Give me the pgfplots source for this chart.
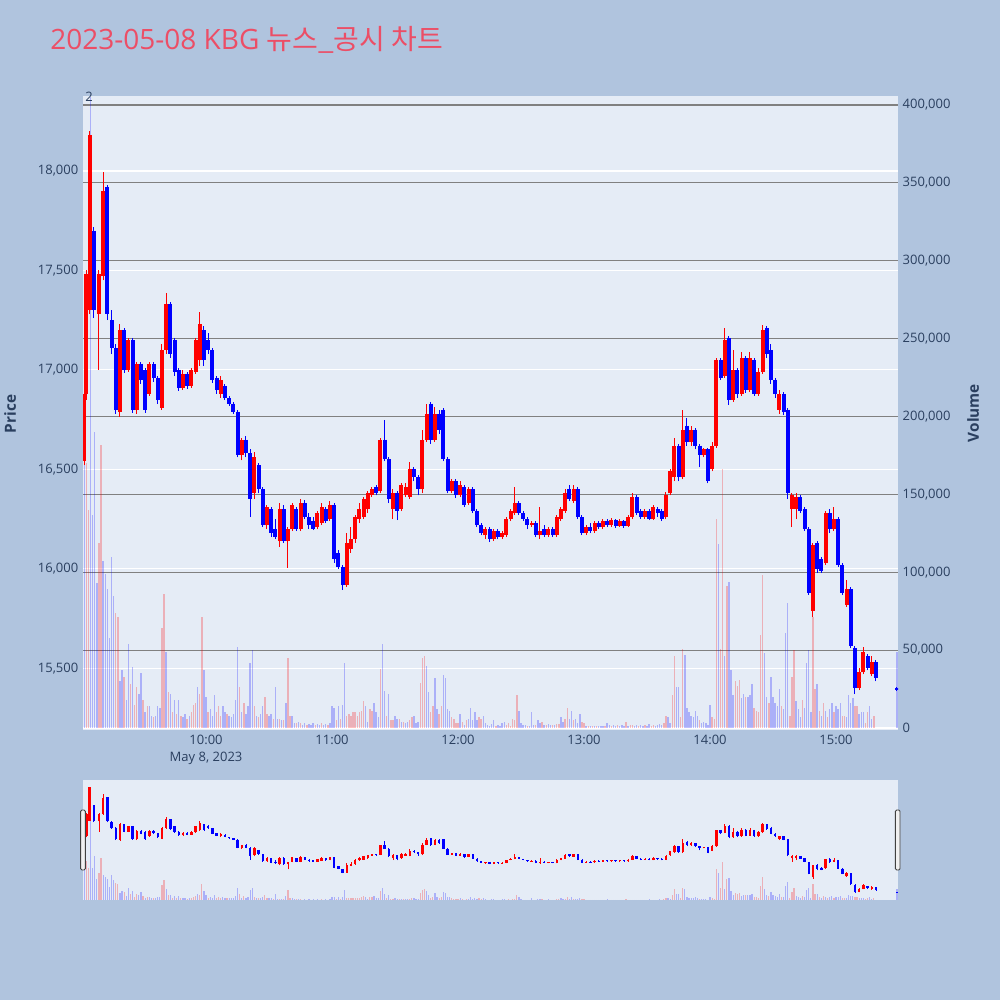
\documentclass[border=0pt]{standalone}
\usepackage{pgfplots}
\usepackage{pgfplotstable}
\usepackage{fontspec}
\pgfplotsset{compat=1.18}
\setmainfont{Open Sans}
\newfontfamily\cjk{Noto Sans CJK KR}

\definecolor{pagebg}{RGB}{176,196,222}
\definecolor{plotbg}{RGB}{229,236,246}
\definecolor{ticktext}{RGB}{42,63,95}
\definecolor{titlered}{RGB}{236,78,102}
\definecolor{grid2}{RGB}{128,128,128}

% minutes after 9:00, open high low close
\pgfplotstableread{
t o h l c
2 16540 16900 16520 16880
3 16880 17500 16850 17480
4.5 17300 18200 17280 18180
6.5 17700 17720 17260 17300
9 17280 17500 17000 17480
11 17470 17995 17450 17900
13 17920 17930 17250 17280
15 17250 17300 17080 17110
17 17110 17130 16780 16800
19 16790 17230 16765 17200
21 17200 17210 16985 17000
23 17000 17160 16990 17150
25 17150 17160 16785 16800
27 16800 17040 16780 17030
29 17030 17040 16930 16950
31 17000 17010 16785 16800
33 16880 17040 16870 17030
35 17030 17040 16940 16960
37 16960 16970 16830 16850
39 16810 17130 16800 17100
41 17100 17385 17080 17330
43 17330 17340 17060 17080
45 17150 17160 16970 16990
47 17000 17010 16895 16910
49 16910 17000 16900 16980
51 16980 16990 16905 16920
53 16920 17010 16910 17000
55 16990 17160 16980 17150
57 17050 17290 17020 17230
59 17200 17220 17020 17050
61 17150 17185 17080 17100
63 17100 17110 16935 16950
65 16960 16970 16880 16900
67 16880 16970 16860 16950
69 16920 16930 16850 16860
71 16860 16870 16820 16830
73 16830 16840 16780 16790
75 16790 16800 16560 16570
77 16570 16660 16545 16650
79 16650 16670 16560 16580
81 16580 16600 16260 16350
83 16380 16585 16350 16560
85 16520 16530 16380 16400
87 16400 16410 16210 16220
89 16220 16320 16200 16310
91 16300 16310 16160 16180
93 16200 16250 16150 16160
95 16140 16330 16110 16300
97 16300 16320 16130 16140
99 16140 16210 16005 16200
101 16200 16330 16190 16320
103 16300 16310 16190 16200
105 16200 16350 16190 16330
107 16330 16345 16250 16260
109 16260 16280 16200 16220
111 16240 16260 16195 16200
113 16210 16290 16200 16280
115 16230 16330 16220 16310
117 16300 16310 16230 16240
119 16250 16340 16240 16320
121 16320 16330 16030 16050
123 16080 16095 16000 16010
125 16010 16020 15895 15920
127 15920 16180 15910 16130
129 16100 16210 16080 16150
131 16150 16270 16130 16260
133 16250 16330 16230 16300
135 16260 16360 16250 16350
137 16300 16390 16280 16380
139 16370 16410 16360 16400
141 16410 16420 16370 16380
143 16390 16660 16380 16650
145 16650 16750 16540 16550
147 16550 16560 16330 16350
149 16300 16400 16250 16380
151 16380 16390 16245 16290
153 16300 16430 16290 16420
155 16370 16430 16360 16410
157 16360 16535 16350 16500
159 16500 16510 16440 16460
161 16460 16470 16370 16400
163 16400 16700 16380 16650
165 16650 16830 16640 16780
167 16830 16840 16630 16650
169 16650 16815 16640 16780
171 16780 16800 16680 16700
173 16800 16810 16540 16550
175 16550 16560 16380 16390
177 16390 16450 16380 16440
179 16440 16450 16355 16370
181 16370 16440 16360 16420
183 16410 16420 16310 16320
185 16330 16410 16320 16400
187 16400 16410 16280 16290
189 16290 16300 16210 16220
191 16220 16230 16170 16180
193 16170 16210 16150 16200
195 16200 16210 16135 16150
197 16150 16200 16140 16190
199 16190 16200 16150 16160
201 16160 16190 16150 16180
203 16170 16260 16160 16250
205 16250 16300 16240 16290
207 16280 16410 16270 16330
209 16330 16340 16270 16280
211 16280 16290 16240 16250
213 16250 16260 16200 16220
215 16220 16240 16210 16230
217 16230 16240 16160 16170
219 16170 16310 16150 16190
221 16200 16220 16160 16170
223 16170 16210 16160 16200
225 16200 16210 16160 16170
227 16170 16270 16160 16260
229 16250 16310 16240 16300
231 16290 16400 16280 16380
233 16400 16420 16340 16350
235 16340 16420 16330 16400
237 16400 16410 16250 16260
239 16260 16270 16170 16180
241 16180 16220 16170 16210
243 16210 16230 16180 16190
245 16190 16240 16180 16230
247 16230 16240 16200 16210
249 16210 16250 16200 16240
251 16240 16250 16210 16220
253 16220 16255 16210 16245
255 16245 16250 16205 16215
257 16215 16250 16210 16240
259 16240 16245 16205 16215
261 16215 16270 16210 16260
263 16260 16380 16250 16360
265 16360 16370 16270 16280
267 16290 16300 16250 16260
269 16260 16300 16250 16290
271 16290 16300 16245 16250
273 16250 16320 16245 16310
275 16300 16310 16260 16280
277 16290 16300 16240 16250
279 16260 16385 16250 16370
281 16380 16500 16370 16490
283 16460 16660 16440 16620
285 16620 16630 16440 16460
287 16460 16800 16450 16700
289 16720 16760 16620 16640
291 16640 16720 16620 16700
293 16700 16710 16600 16620
295 16620 16630 16510 16570
297 16570 16610 16560 16600
299 16600 16610 16430 16440
301 16500 16640 16490 16620
303 16620 17060 16610 17050
305 17050 17060 16950 16960
307 16970 17210 16960 17150
309 17160 17170 16825 16850
311 16850 17100 16840 17000
313 17000 17010 16860 16880
315 16880 17090 16870 17060
317 17060 17070 16885 16900
319 16900 17090 16890 17060
321 17050 17060 16870 16880
323 16880 17010 16870 16990
325 16990 17225 16980 17200
327 17210 17220 17060 17080
329 17100 17130 16930 16950
331 16950 16960 16860 16880
333 16800 16900 16780 16880
335 16880 16890 16775 16790
337 16800 16810 16350 16380
339 16300 16380 16210 16370
341 16300 16380 16250 16360
343 16360 16370 16280 16290
345 16300 16310 16190 16200
347 16200 16210 15870 15880
349 15790 16130 15760 16120
351 16130 16140 15980 16000
353 16050 16060 15980 15990
355 16030 16290 16020 16280
357 16280 16300 16180 16200
359 16200 16310 16190 16250
361 16250 16260 16010 16020
363 16020 16030 15870 15880
365 15820 15945 15810 15900
367 15900 15910 15600 15610
369 15600 15610 15370 15400
371 15400 15500 15390 15480
373 15480 15605 15470 15580
375 15560 15570 15490 15500
377 15470 15560 15460 15530
379 15530 15540 15435 15450
389 15400 15405 15385 15390
}\candles

% minutes after 9:00, volume, 1 = up (red) / 0 = down (blue)
\pgfplotstableread{
t v d
2 190000 0
3 170000 1
4 140000 1
5 405000 0
6 137000 0
7 190000 0
8 93000 0
9 119000 1
10 182000 1
11 107000 0
12 99000 0
13 89000 0
14 58000 0
15 110000 0
16 85000 0
17 74000 1
18 71000 1
19 30000 0
20 37000 0
21 33000 1
22 18000 0
23 54000 0
24 28000 1
25 39000 0
26 15000 1
27 26000 1
28 22000 0
29 35000 0
30 18000 1
31 10000 0
32 14000 1
33 14000 0
34 8000 0
35 7000 1
36 8000 0
37 14000 0
38 13000 0
39 64000 1
40 86000 1
41 49000 0
42 23000 1
43 22000 0
44 10000 1
45 18000 0
46 9000 1
47 18000 0
48 8000 1
49 7000 0
50 9000 0
51 6000 1
52 8000 0
53 10000 1
54 15000 1
55 16000 1
56 26000 0
57 22000 1
58 71000 1
59 37000 0
60 20000 0
61 10000 1
62 12000 0
63 8000 0
64 21000 0
65 10000 1
66 14000 1
67 8000 1
68 14000 0
69 10000 0
70 9000 1
71 8000 0
72 7000 0
73 9000 0
74 18000 0
75 52000 0
76 26000 1
77 10000 0
78 16000 1
79 9000 0
80 14000 0
81 42000 0
82 50000 0
83 14000 1
84 8000 0
85 7000 1
86 9000 0
87 14000 0
88 20000 1
89 9000 1
90 8000 0
91 9000 0
92 6000 1
93 26000 0
94 6000 0
95 6000 1
96 5000 0
97 5000 1
98 16000 0
99 45000 1
100 8000 1
101 8000 0
102 3000 0
103 3000 1
104 4000 0
105 3000 1
106 2000 0
107 3000 0
108 2000 1
109 2500 0
110 2000 0
111 3000 0
112 2000 1
113 2500 0
114 2000 0
115 3000 1
116 2000 0
117 2500 0
118 2000 1
119 3000 0
120 14000 0
121 13000 0
122 5000 1
123 14000 0
124 6000 1
125 15000 0
126 42000 0
127 8000 1
128 9000 1
129 8000 1
130 10000 1
131 10000 1
132 8000 1
133 10000 1
134 11000 1
135 17000 1
136 14000 0
137 4000 0
138 12000 1
139 11000 1
140 16000 0
141 10000 0
142 7000 0
143 38000 1
144 54000 0
145 24000 0
146 8000 1
147 22000 0
148 5000 1
149 5000 1
150 8000 0
151 6000 0
152 6000 1
153 4000 0
154 4000 1
155 3000 0
156 4000 0
157 5000 1
158 7000 1
159 8000 0
160 3000 0
161 4000 0
162 29000 1
163 45000 1
164 46000 1
165 40000 0
166 23000 0
167 10000 1
168 14000 1
169 32000 0
170 12000 0
171 9000 1
172 14000 1
173 34000 0
174 32000 0
175 12000 0
176 11000 0
177 7000 1
178 6000 1
179 3000 1
180 3000 1
181 9000 0
182 4000 1
183 2000 0
184 5000 1
185 6000 0
186 13000 0
187 5000 0
188 10000 0
189 5000 0
190 7000 1
191 6000 1
192 8000 0
193 3000 0
194 2000 0
195 1500 0
196 2500 0
197 5000 0
198 1500 1
199 2000 0
200 1500 0
201 3000 0
202 4000 0
203 2000 1
204 3000 1
205 1500 1
206 6000 1
207 5000 1
208 21000 1
209 11000 0
210 3000 0
211 2000 0
212 2000 0
213 1500 1
214 1500 0
215 10000 0
216 2000 0
217 2000 1
218 5000 0
219 3000 0
220 4000 1
221 2000 0
222 2000 1
223 2500 0
224 2000 0
225 2000 1
226 2000 0
227 2500 1
228 2500 1
229 7000 0
230 4000 0
231 6000 1
232 13000 1
233 6000 0
234 11000 0
235 5000 1
236 6000 0
237 3000 0
238 9000 0
239 4000 1
240 3000 1
241 1000 0
242 1000 1
243 1500 0
244 1000 1
245 1000 0
246 1500 1
247 1000 0
248 1000 0
249 1500 0
250 1000 1
251 3000 0
252 2000 0
253 1500 1
254 2000 0
255 1500 0
256 2000 1
257 1500 0
258 2000 0
259 1500 0
260 4000 1
261 1500 0
262 2000 1
263 2000 1
264 1500 0
265 2000 0
266 1500 1
267 2000 0
268 1500 0
269 2000 1
270 1500 0
271 2500 0
272 1500 1
273 2000 1
274 1500 0
275 2000 0
276 2500 0
277 2000 0
278 3000 1
279 8000 1
280 7000 0
281 3000 0
282 21000 1
283 46000 1
284 26000 0
285 26000 0
286 7000 1
287 51000 1
288 47000 0
289 13000 0
290 10000 0
291 8000 0
292 7000 0
293 11000 0
294 8000 0
295 5000 1
296 3000 0
297 4000 0
298 3000 0
299 2000 0
300 15000 0
301 7000 1
302 6000 1
303 134000 1
304 118000 0
305 51000 1
306 166000 1
307 46000 0
308 91000 1
309 94000 0
310 37000 0
311 21000 0
312 30000 1
313 27000 1
314 31000 1
315 19000 0
316 22000 0
317 20000 1
318 20000 0
319 21000 0
320 28000 0
321 13000 1
322 11000 1
323 10000 1
324 60000 1
325 98000 1
326 48000 0
327 20000 0
328 16000 1
329 33000 0
330 20000 0
331 16000 0
332 14000 0
333 25000 0
334 14000 1
335 12000 0
336 61000 0
337 80000 0
338 8000 1
339 33000 1
340 50000 1
341 17000 0
342 12000 0
343 7000 0
344 18000 1
345 13000 0
346 42000 0
347 50000 0
348 10000 0
349 71000 1
350 25000 1
351 28000 0
352 11000 1
353 8000 0
354 16000 1
355 11000 0
356 7000 1
357 12000 0
358 16000 0
359 10000 1
360 14000 0
361 12000 0
362 16000 0
363 8000 1
364 8000 1
365 7000 0
366 21000 0
367 16000 0
368 19000 0
369 14000 1
370 14000 1
371 9000 0
372 10000 0
373 10000 0
374 3000 1
375 10000 1
376 14000 0
377 6000 0
378 8000 1
389 49000 0
}\volumes

\tikzset{tickfont/.style={font=\fontsize{9.75}{12.75}\selectfont, text=ticktext}}
\pgfplotsset{
  mainframe/.style={scale only axis, width=611.25pt, height=475.5pt,
    at={(62.25pt,202.5pt)}, anchor=south west, xmin=1.4, xmax=389.5},
  sliderframe/.style={scale only axis, width=611.25pt, height=90pt,
    at={(62.25pt,75pt)}, anchor=south west, xmin=1.4, xmax=389.5},
  up/.style={restrict expr to domain={\thisrow{c}-\thisrow{o}}{0:100000}},
  down/.style={restrict expr to domain={\thisrow{c}-\thisrow{o}}{-100000:-1}},
}

\begin{document}
\begin{tikzpicture}[x=1pt,y=1pt]
\fill[pagebg] (0,0) rectangle (750,750);
\useasboundingbox (0,0) rectangle (750,750);

\node[anchor=west, text=titlered, font=\fontsize{21}{25}\selectfont, inner sep=0pt]
  at (37.5,720) {2023-05-08 KBG {\cjk 뉴스\_공시 차트}};

% price frame: background, white grid, left ticks
\begin{axis}[mainframe, ymin=15190, ymax=18377,
  axis background/.style={fill=plotbg},
  axis line style={draw=none}, tick style={draw=none},
  xtick={60,120,180,240,300,360},
  xticklabels={{10:00\\May 8, 2023},11:00,12:00,13:00,14:00,15:00},
  xticklabel style={tickfont, align=center},
  ytick={15500,16000,16500,17000,17500,18000},
  yticklabel style={tickfont},
  scaled y ticks=false,
  /pgf/number format/fixed,
  /pgf/number format/1000 sep={,},
  /pgf/number format/assume math mode=true,
  ymajorgrids, major grid style={white, line width=0.8pt}]
\end{axis}

% volume
\begin{axis}[mainframe, ymin=-1300, ymax=405800,
  axis y line*=right, axis x line=none,
  axis line style={draw=none}, tick style={draw=none},
  ytick={50000,100000,...,400000},
  extra y ticks={0},
  extra y tick style={major grid style={white, line width=1.3pt}},
  scaled y ticks=false,
  yticklabel style={tickfont},
  /pgf/number format/fixed,
  /pgf/number format/1000 sep={,},
  /pgf/number format/assume math mode=true,
  ymajorgrids, major grid style={grid2, line width=0.9pt}]
\addplot[red, opacity=0.25, line width=1.1pt, mark=none,
  quiver={u=0, v=\thisrow{v}},
  restrict expr to domain={\thisrow{d}}{0.5:1.5}]
  table[x=t, y expr=0] {\volumes};
\addplot[blue, opacity=0.25, line width=1.1pt, mark=none,
  quiver={u=0, v=\thisrow{v}},
  restrict expr to domain={\thisrow{d}}{-0.5:0.5}]
  table[x=t, y expr=0] {\volumes};
\end{axis}

% candles
\begin{axis}[mainframe, ymin=15190, ymax=18377, hide axis]
\addplot[red, line width=0.8pt, mark=none, up,
  quiver={u=0, v=\thisrow{h}-\thisrow{l}}] table[x=t, y=l] {\candles};
\addplot[red, line width=3pt, mark=none, up,
  quiver={u=0, v=\thisrow{c}-\thisrow{o}}] table[x=t, y=o] {\candles};
\addplot[blue, line width=0.8pt, mark=none, down,
  quiver={u=0, v=\thisrow{h}-\thisrow{l}}] table[x=t, y=l] {\candles};
\addplot[blue, line width=3pt, mark=none, down,
  quiver={u=0, v=\thisrow{c}-\thisrow{o}}] table[x=t, y=o] {\candles};
\end{axis}
\node[tickfont, inner sep=0pt] at (66.75,677.25) {2};

% range slider
\begin{axis}[sliderframe, ymin=0, ymax=520000,
  axis background/.style={fill=plotbg},
  axis line style={draw=none}, tick style={draw=none},
  xtick=\empty, ytick=\empty]
\addplot[red, opacity=0.25, line width=0.9pt, mark=none,
  quiver={u=0, v=\thisrow{v}},
  restrict expr to domain={\thisrow{d}}{0.5:1.5}]
  table[x=t, y expr=0] {\volumes};
\addplot[blue, opacity=0.25, line width=0.9pt, mark=none,
  quiver={u=0, v=\thisrow{v}},
  restrict expr to domain={\thisrow{d}}{-0.5:0.5}]
  table[x=t, y expr=0] {\volumes};
\end{axis}
\begin{axis}[sliderframe, ymin=15190, ymax=18377, hide axis]
\addplot[red, line width=0.5pt, mark=none, up,
  quiver={u=0, v=\thisrow{h}-\thisrow{l}}] table[x=t, y=l] {\candles};
\addplot[red, line width=1.8pt, mark=none, up,
  quiver={u=0, v=\thisrow{c}-\thisrow{o}}] table[x=t, y=o] {\candles};
\addplot[blue, line width=0.5pt, mark=none, down,
  quiver={u=0, v=\thisrow{h}-\thisrow{l}}] table[x=t, y=l] {\candles};
\addplot[blue, line width=1.8pt, mark=none, down,
  quiver={u=0, v=\thisrow{c}-\thisrow{o}}] table[x=t, y=o] {\candles};
\end{axis}

% slider handles
\draw[fill=black!6, draw=black!75, line width=0.7pt, rounded corners=1pt]
  (60.5,97.5) rectangle (64,142.5);
\draw[fill=black!6, draw=black!75, line width=0.7pt, rounded corners=1pt]
  (671.5,97.5) rectangle (675,142.5);

\node[rotate=90, text=ticktext, font=\bfseries\fontsize{11.5}{13}\selectfont]
  at (7.5,439.5) {Price};
\node[rotate=90, text=ticktext, font=\bfseries\fontsize{11.5}{13}\selectfont]
  at (729.75,440.25) {Volume};
\end{tikzpicture}
\end{document}
